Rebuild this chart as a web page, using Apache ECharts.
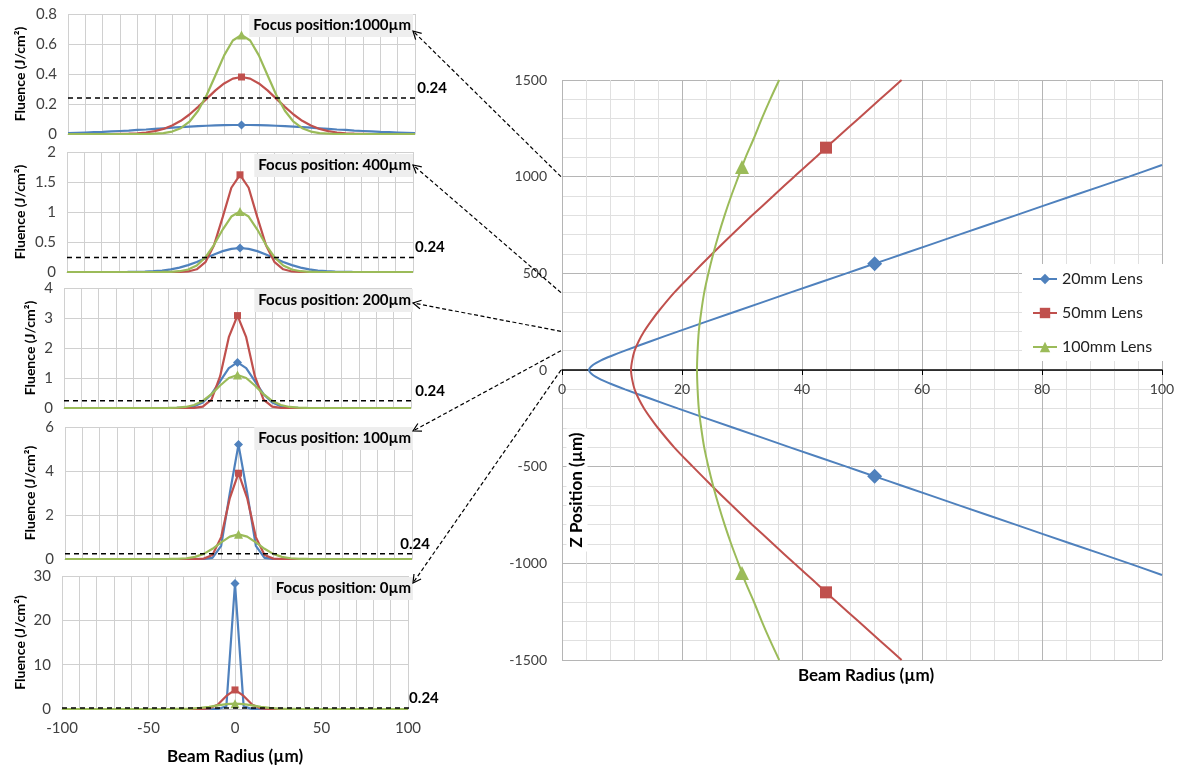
<!DOCTYPE html>
<html><head><meta charset="utf-8">
<script src="https://cdn.jsdelivr.net/npm/echarts@6/dist/echarts.min.js"></script>
<style>html,body{margin:0;padding:0;background:#fff}#c{width:1185px;height:773px}</style>
</head><body><div id="c"></div>
<script>
// ---------- DATA ----------
const radius = [-100,-95,-90,-85,-80,-75,-70,-65,-60,-55,-50,-45,-40,-35,-30,-25,-20,-15,-10,-5,0,5,10,15,20,25,30,35,40,45,50,55,60,65,70,75,80,85,90,95,100];

// Focus position 1000 µm
const f1000_20 = [0.006,0.008,0.010,0.012,0.014,0.017,0.020,0.023,0.027,0.030,0.034,0.038,0.042,0.046,0.049,0.052,0.055,0.057,0.059,0.060,0.060,0.060,0.059,0.057,0.055,0.052,0.049,0.046,0.042,0.038,0.034,0.030,0.027,0.023,0.020,0.017,0.014,0.012,0.010,0.008,0.006];
const f1000_50 = [0,0,0,0,0,0,0.001,0.002,0.005,0.010,0.019,0.034,0.057,0.088,0.130,0.181,0.236,0.291,0.337,0.369,0.380,0.369,0.337,0.291,0.236,0.181,0.130,0.088,0.057,0.034,0.019,0.010,0.005,0.002,0.001,0,0,0,0,0,0];
const f1000_100 = [0,0,0,0,0,0,0,0,0,0,0.002,0.006,0.016,0.039,0.082,0.155,0.262,0.392,0.524,0.623,0.660,0.623,0.524,0.392,0.262,0.155,0.082,0.039,0.016,0.006,0.002,0,0,0,0,0,0,0,0,0,0];
// Focus position 400 µm
const f400_20 = [0,0,0,0,0,0,0,0.001,0.003,0.006,0.013,0.024,0.044,0.073,0.115,0.168,0.230,0.293,0.348,0.386,0.400,0.386,0.348,0.293,0.230,0.168,0.115,0.073,0.044,0.024,0.013,0.006,0.003,0.001,0,0,0,0,0,0,0];
const f400_50 = [0,0,0,0,0,0,0,0,0,0,0,0,0,0.001,0.009,0.045,0.164,0.447,0.914,1.404,1.620,1.404,0.914,0.447,0.164,0.045,0.009,0.001,0,0,0,0,0,0,0,0,0,0,0,0,0];
const f400_100 = [0,0,0,0,0,0,0,0,0,0,0,0.001,0.003,0.013,0.041,0.109,0.243,0.453,0.707,0.924,1.010,0.924,0.707,0.453,0.243,0.109,0.041,0.013,0.003,0.001,0,0,0,0,0,0,0,0,0,0,0];
// Focus position 200 µm
const f200_20 = [0,0,0,0,0,0,0,0,0,0,0,0,0,0.002,0.013,0.055,0.181,0.460,0.893,1.331,1.520,1.331,0.893,0.460,0.181,0.055,0.013,0.002,0,0,0,0,0,0,0,0,0,0,0,0,0];
const f200_50 = [0,0,0,0,0,0,0,0,0,0,0,0,0,0,0,0.004,0.043,0.280,1.061,2.360,3.080,2.360,1.061,0.280,0.043,0.004,0,0,0,0,0,0,0,0,0,0,0,0,0,0,0];
const f200_100 = [0,0,0,0,0,0,0,0,0,0,0,0,0.002,0.010,0.035,0.099,0.236,0.463,0.749,0.999,1.100,0.999,0.749,0.463,0.236,0.099,0.035,0.010,0.002,0,0,0,0,0,0,0,0,0,0,0,0];
// Focus position 100 µm
const f100_20 = [0,0,0,0,0,0,0,0,0,0,0,0,0,0,0,0,0.002,0.050,0.600,3.000,5.200,3.000,0.600,0.050,0.002,0,0,0,0,0,0,0,0,0,0,0,0,0,0,0,0];
const f100_50 = [0,0,0,0,0,0,0,0,0,0,0,0,0,0,0,0.001,0.017,0.180,0.995,2.772,3.900,2.772,0.995,0.180,0.017,0.001,0,0,0,0,0,0,0,0,0,0,0,0,0,0,0];
const f100_100 = [0,0,0,0,0,0,0,0,0,0,0,0,0.002,0.009,0.033,0.097,0.234,0.464,0.757,1.016,1.120,1.016,0.757,0.464,0.234,0.097,0.033,0.009,0.002,0,0,0,0,0,0,0,0,0,0,0,0];
// Focus position 0 µm
const f0_20 = [0,0,0,0,0,0,0,0,0,0,0,0,0,0,0,0,0,0,0,0.600,28.300,0.600,0,0,0,0,0,0,0,0,0,0,0,0,0,0,0,0,0,0,0];
const f0_50 = [0,0,0,0,0,0,0,0,0,0,0,0,0,0,0,0,0.010,0.143,0.948,2.946,4.300,2.946,0.948,0.143,0.010,0,0,0,0,0,0,0,0,0,0,0,0,0,0,0,0];
const f0_100 = [0,0,0,0,0,0,0,0,0,0,0,0,0.002,0.009,0.034,0.102,0.247,0.493,0.808,1.087,1.200,1.087,0.808,0.493,0.247,0.102,0.034,0.009,0.002,0,0,0,0,0,0,0,0,0,0,0,0];

const focusPositions = [1000, 400, 200, 100, 0];
const focusLabels = ['Focus position:1000µm','Focus position: 400µm','Focus position: 200µm','Focus position: 100µm','Focus position: 0µm'];
const fluenceMax = [0.8, 2, 4, 6, 30];
const fluenceStep = [0.2, 0.5, 1, 2, 10];
const threshold = 0.24;
const thresholdLineEnd = 115;

// Right chart: beam radius (µm) vs Z position (µm)
const z20 = [-1060,-1000,-900,-800,-700,-600,-550,-500,-400,-300,-200,-150,-100,-75,-50,-25,0,25,50,75,100,150,200,300,400,500,550,600,700,800,900,1000,1060];
const w20 = [100.0,94.5,85.0,75.6,66.2,56.8,52.1,47.4,38.0,28.7,19.4,14.9,10.5,8.4,6.5,5.1,4.5,5.1,6.5,8.4,10.5,14.9,19.4,28.7,38.0,47.4,52.1,56.8,66.2,75.6,85.0,94.5,100.0];
const z50 = [-1500,-1400,-1300,-1200,-1150,-1100,-1000,-900,-800,-700,-600,-500,-400,-300,-250,-200,-150,-100,-50,0,50,100,150,200,250,300,400,500,600,700,800,900,1000,1100,1150,1200,1300,1400,1500];
const w50 = [56.6,53.0,49.4,45.8,44.0,42.3,38.7,35.2,31.7,28.3,25.0,21.8,18.7,16.0,14.8,13.7,12.8,12.1,11.7,11.5,11.7,12.1,12.8,13.7,14.8,16.0,18.7,21.8,25.0,28.3,31.7,35.2,38.7,42.3,44.0,45.8,49.4,53.0,56.6];
const z100 = [-1500,-1400,-1300,-1200,-1100,-1050,-1000,-900,-800,-700,-600,-500,-400,-300,-200,-100,0,100,200,300,400,500,600,700,800,900,1000,1050,1100,1200,1300,1400,1500];
const w100 = [36.2,34.7,33.3,32.0,30.6,30.0,29.4,28.2,27.1,26.1,25.2,24.4,23.7,23.2,22.8,22.6,22.5,22.6,22.8,23.2,23.7,24.4,25.2,26.1,27.1,28.2,29.4,30.0,30.6,32.0,33.3,34.7,36.2];
const marker20 = [-550, 550];
const marker50 = [-1150, 1150];
const marker100 = [-1050, 1050];
const lensNames = ['20mm Lens','50mm Lens','100mm Lens'];

// ---------- STYLE / LAYOUT ----------
const FONT = 'Lato, "Liberation Sans", sans-serif';
const C_BLUE = '#4F81BD', C_RED = '#C0504D', C_GREEN = '#9BBB59';
const panelFluence = [
  [f1000_20, f1000_50, f1000_100],
  [f400_20, f400_50, f400_100],
  [f200_20, f200_50, f200_100],
  [f100_20, f100_50, f100_100],
  [f0_20, f0_50, f0_100]
];
const leftGrids = [
  {left:68, top:14, width:347, height:120},
  {left:67, top:152, width:346, height:120},
  {left:64, top:288, width:347, height:120},
  {left:65, top:427, width:347, height:132},
  {left:62, top:576, width:346, height:133}
];
const rightGrid = {left:562, top:80, width:600, height:580};
const nameGaps = [41, 40, 27, 28, 35];
const labelTops = [14, 154, 289, 427, 577];
const thrLabelOffset = [-9, -9, -7, -23, -10];
const arrowTargets = [[413,31],[413,165],[413,303],[413,431],[413,583]];
const gridColor = '#d0d0d0';
const plain = v => String(v);

const chart = echarts.init(document.getElementById('c'), null, {renderer:'canvas'});

const grid = leftGrids.map(g => Object.assign({outerBoundsMode:'none', containLabel:false}, g));
grid.push(Object.assign({outerBoundsMode:'none', containLabel:false}, rightGrid));

const xAxis = [], yAxis = [], series = [], title = [];
leftGrids.forEach((g, i) => {
  const last = i === 4;
  xAxis.push({
    type:'value', gridIndex:i, min:-100, max:100, interval:50,
    axisLine:{show:true, onZero:false, lineStyle:{color:'#bfbfbf', width:1}},
    axisTick:{show:false},
    axisLabel:{show:last, fontSize:15, color:'#404040', margin:12, fontFamily:FONT, formatter:plain},
    splitLine:{show:true, lineStyle:{color:gridColor, width:1}},
    minorTick:{show:false, splitNumber:5},
    minorSplitLine:{show:true, lineStyle:{color:gridColor, width:1}},
    name: last ? 'Beam Radius (µm)' : '',
    nameLocation:'middle', nameGap:39,
    nameTextStyle:{fontSize:17, fontWeight:'bold', color:'#000', fontFamily:FONT}
  });
  yAxis.push({
    type:'value', gridIndex:i, min:0, max:fluenceMax[i], interval:fluenceStep[i],
    axisLine:{show:false}, axisTick:{show:false},
    axisLabel:{fontSize:15, color:'#404040', margin:11, fontFamily:FONT, formatter:plain},
    splitLine:{show:true, lineStyle:{color:gridColor, width:1}},
    name:'Fluence (J/cm²)', nameLocation:'middle', nameRotate:90, nameGap:nameGaps[i],
    nameTextStyle:{fontSize:14, fontWeight:'bold', color:'#000', fontFamily:FONT}
  });
  const specs = [[C_BLUE,'diamond',9],[C_RED,'rect',7],[C_GREEN,'triangle',9]];
  panelFluence[i].forEach((vals, s) => {
    const [col, sym, sz] = specs[s];
    series.push({
      type:'line', name:'p' + i + '_' + s, xAxisIndex:i, yAxisIndex:i,
      symbol:sym, symbolSize:sz, showSymbol:true, silent:true,
      data: radius.map((r, k) => r === 0 ? {value:[r, vals[k]]} : {value:[r, vals[k]], symbol:'none'}),
      lineStyle:{color:col, width:2.2}, itemStyle:{color:col}, z:2 + s
    });
  });
  // threshold dashed line
  series.push({
    type:'line', name:'thr' + i, xAxisIndex:i, yAxisIndex:i, clip:false, silent:true,
    symbol:'circle', symbolSize:1, showSymbol:true,
    data:[
      {value:[-100, threshold], symbol:'none'},
      {value:[thresholdLineEnd, threshold], itemStyle:{color:'rgba(0,0,0,0)'},
       label:{show:true, formatter:'0.24', position:'top', distance:2, offset:[thrLabelOffset[i], 0],
              color:'#000', fontWeight:'bold', fontSize:15, fontFamily:FONT}}
    ],
    lineStyle:{color:'#000', width:1.5, type:[5,4]}, z:6
  });
  title.push({
    text:focusLabels[i], right:772, top:labelTops[i], backgroundColor:'#eeeeee', padding:[4,2,4,4],
    textStyle:{fontSize:15, fontWeight:'bold', color:'#000', fontFamily:FONT}
  });
});

// right chart axes (x axis drawn through Z = 0, the middle of the symmetric range)
xAxis.push({
  type:'value', gridIndex:5, min:0, max:100, interval:20, position:'bottom',
  offset: -rightGrid.height / 2,
  axisLine:{show:true, onZero:false, lineStyle:{color:'#000', width:1.5}},
  axisTick:{show:true, length:5, lineStyle:{color:'#000'}},
  axisLabel:{fontSize:14, color:'#404040', margin:12, fontFamily:FONT, formatter:plain},
  splitLine:{show:true, lineStyle:{color:'#b5b5b5', width:1}},
  minorTick:{show:false, splitNumber:5},
  minorSplitLine:{show:true, lineStyle:{color:'#e0e0e0', width:1}}
});
yAxis.push({
  type:'value', gridIndex:5, min:-1500, max:1500, interval:500,
  axisLine:{show:false}, axisTick:{show:false},
  axisLabel:{fontSize:14, color:'#404040', margin:15, fontFamily:FONT, formatter:plain},
  splitLine:{show:true, lineStyle:{color:'#b5b5b5', width:1}},
  minorTick:{show:false, splitNumber:5},
  minorSplitLine:{show:true, lineStyle:{color:'#e0e0e0', width:1}}
});
function beamSeries(name, zs, ws, markers, col, sym, sz, zz) {
  return {
    type:'line', name, xAxisIndex:5, yAxisIndex:5, symbol:sym, symbolSize:sz, showSymbol:true,
    smooth:0.3, silent:true,
    data: zs.map((z, k) => markers.includes(z) ? {value:[ws[k], z]} : {value:[ws[k], z], symbol:'none'}),
    lineStyle:{color:col, width:2}, itemStyle:{color:col}, z:zz
  };
}
series.push(beamSeries(lensNames[0], z20, w20, marker20, C_BLUE, 'diamond', 15, 3));
series.push(beamSeries(lensNames[1], z50, w50, marker50, C_RED, 'rect', 12, 4));
series.push(beamSeries(lensNames[2], z100, w100, marker100, C_GREEN, 'triangle', 14, 5));

const option = {
  animation:false,
  backgroundColor:'#fff',
  textStyle:{fontFamily:FONT},
  title, grid, xAxis, yAxis, series,
  legend:{
    data:lensNames, orient:'vertical', left:1022, top:264, backgroundColor:'#fff',
    padding:[7,12,6,10], itemGap:18, itemWidth:24, itemHeight:13, selectedMode:false,
    textStyle:{fontSize:16, color:'#222', fontFamily:FONT}
  }
};
chart.setOption(option);

// annotations: axis titles of right chart and dashed arrows to focus labels
const graphics = [
  {type:'text', x:577, y:490, rotation:Math.PI/2, z:50,
   style:{text:'Z Position (µm)', font:'bold 17px ' + FONT, fill:'#000', align:'center', verticalAlign:'middle',
          textAlign:'center', textVerticalAlign:'middle', backgroundColor:'#fff', padding:[2,4]}},
  {type:'text', x:866, y:676, z:50,
   style:{text:'Beam Radius (µm)', font:'bold 17px ' + FONT, fill:'#000', align:'center', verticalAlign:'middle',
          textAlign:'center', textVerticalAlign:'middle'}}
];
focusPositions.forEach((zf, i) => {
  const s = chart.convertToPixel({gridIndex:5}, [0, zf]);
  const t = arrowTargets[i];
  const dx = s[0] - t[0], dy = s[1] - t[1], L = Math.hypot(dx, dy);
  const ux = dx / L, uy = dy / L, hl = 9, a = 0.5;
  const p1 = [t[0] + hl*(ux*Math.cos(a) - uy*Math.sin(a)), t[1] + hl*(ux*Math.sin(a) + uy*Math.cos(a))];
  const p2 = [t[0] + hl*(ux*Math.cos(-a) - uy*Math.sin(-a)), t[1] + hl*(ux*Math.sin(-a) + uy*Math.cos(-a))];
  graphics.push({type:'line', z:100, shape:{x1:s[0]-1, y1:s[1], x2:t[0], y2:t[1]},
                 style:{stroke:'#000', lineWidth:1.2, lineDash:[4,2.5]}});
  graphics.push({type:'polyline', z:100, shape:{points:[p1, t, p2]},
                 style:{stroke:'#000', lineWidth:1.2, fill:null}});
});
chart.setOption({graphic:graphics});
</script>
</body></html>
